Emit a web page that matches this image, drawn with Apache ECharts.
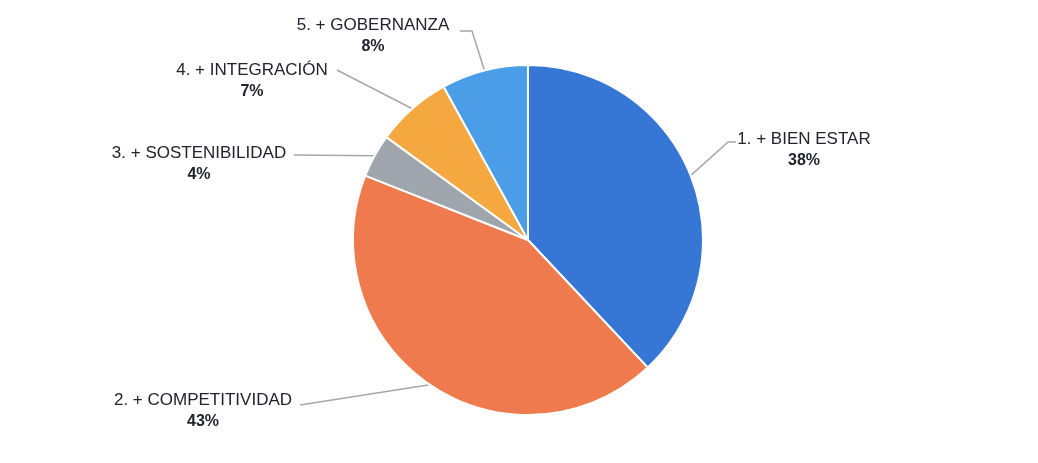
<!DOCTYPE html>
<html>
<head>
<meta charset="utf-8">
<script src="https://cdn.jsdelivr.net/npm/echarts@6/dist/echarts.min.js"></script>
<style>
html,body{margin:0;padding:0;background:#fff;}
#c{width:1038px;height:463px;}
</style>
</head>
<body>
<div id="c"></div>
<script>
var categories = ['1. + BIEN ESTAR', '2. + COMPETITIVIDAD', '3. + SOSTENIBILIDAD', '4. + INTEGRACIÓN', '5. + GOBERNANZA'];
var values = [38, 43, 4, 7, 8];
var colors = ['#3677d6', '#ef7a4e', '#9fa5ad', '#f4a83f', '#4a9de6'];

// label placement (style only)
var labelPos = [
  {x: 804, y: 150, bend: [[728, 142], [736, 142]]},
  {x: 203, y: 411, bend: [[300, 405]]},
  {x: 199, y: 164, bend: [[294, 155]]},
  {x: 252, y: 81,  bend: [[337, 70]]},
  {x: 373, y: 36,  bend: [[472, 31], [460, 31]]}
];

var chart = echarts.init(document.getElementById('c'), null, {renderer: 'canvas'});
chart.setOption({
  backgroundColor: '#ffffff',
  animation: false,
  series: [{
    type: 'pie',
    center: [528, 240],
    radius: 175,
    startAngle: 90,
    clockwise: true,
    percentPrecision: 0,
    data: categories.map(function (n, i) {
      return {name: n, value: values[i], itemStyle: {color: colors[i]}};
    }),
    itemStyle: {borderColor: '#ffffff', borderWidth: 2},
    label: {
      show: true,
      formatter: '{n|{b}}\n{p|{d}%}',
      rich: {
        n: {fontFamily: 'Liberation Sans', fontSize: 17, color: '#22232f', lineHeight: 21, align: 'center'},
        p: {fontFamily: 'Liberation Sans', fontSize: 16, fontWeight: 'bold', color: '#22232f', lineHeight: 21, align: 'center'}
      }
    },
    labelLine: {show: true, smooth: false, lineStyle: {color: '#a4a7ab', width: 1.5}},
    labelLayout: function (params) {
      var p = labelPos[params.dataIndex];
      var pts = params.labelLinePoints;
      var out = {x: p.x, y: p.y, align: 'center', verticalAlign: 'middle'};
      if (pts && pts.length) {
        out.labelLinePoints = [pts[0]].concat(p.bend);
      }
      return out;
    },
    emphasis: {disabled: true}
  }]
});
</script>
</body>
</html>
